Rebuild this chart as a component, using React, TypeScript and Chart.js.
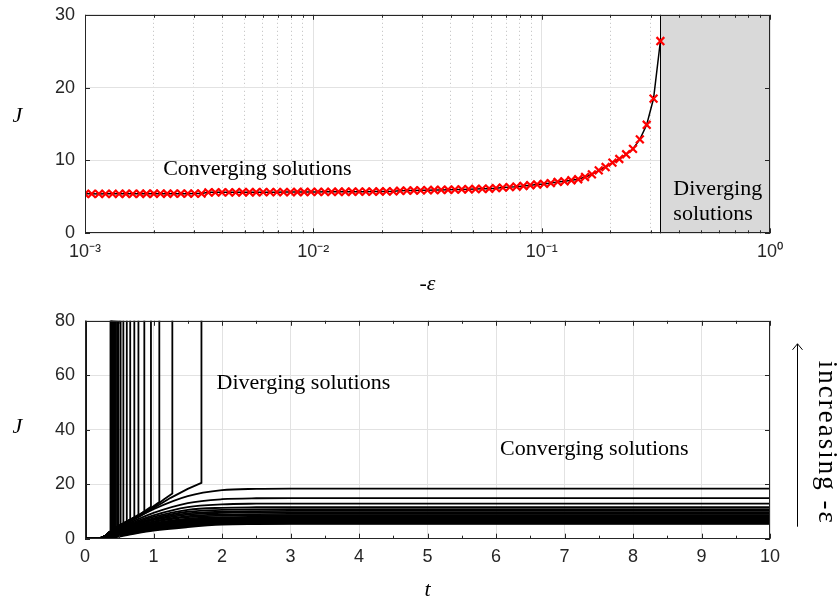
import React, { useEffect, useRef } from 'react';
import { Chart, registerables } from 'chart.js';

Chart.register(...registerables);

// ---------------- DATA ----------------
// Top plot: cost J versus -epsilon (log scale)
const EPS = [
  0.00100, 0.00107, 0.00115, 0.00123, 0.00132, 0.00141, 0.00151, 0.00162, 0.00174, 0.00186,
  0.00200, 0.00214, 0.00229, 0.00245, 0.00263, 0.00282, 0.00302, 0.00324, 0.00347, 0.00372,
  0.00398, 0.00427, 0.00457, 0.00490, 0.00525, 0.00562, 0.00603, 0.00646, 0.00692, 0.00741,
  0.00794, 0.00851, 0.00912, 0.00977, 0.01047, 0.01122, 0.01202, 0.01288, 0.01380, 0.01479,
  0.01585, 0.01698, 0.01820, 0.01950, 0.02089, 0.02239, 0.02399, 0.02570, 0.02754, 0.02951,
  0.03162, 0.03388, 0.03631, 0.03890, 0.04169, 0.04467, 0.04786, 0.05129, 0.05495, 0.05888,
  0.06310, 0.06761, 0.07244, 0.07762, 0.08318, 0.08913, 0.09550, 0.10233, 0.10965, 0.11749,
  0.12589, 0.13490, 0.14454, 0.15488, 0.16596, 0.17783, 0.19055, 0.20417, 0.21878, 0.23442,
  0.25119, 0.26915, 0.28840, 0.30903, 0.33113,
];
const J_TOP = [
  5.42, 5.42, 5.41, 5.42, 5.42, 5.42, 5.43, 5.42, 5.43, 5.43,
  5.43, 5.44, 5.43, 5.44, 5.44, 5.44, 5.45, 5.45, 5.62, 5.62,
  5.63, 5.63, 5.63, 5.64, 5.64, 5.64, 5.65, 5.65, 5.65, 5.66,
  5.66, 5.67, 5.67, 5.68, 5.68, 5.69, 5.69, 5.70, 5.70, 5.71,
  5.72, 5.72, 5.73, 5.74, 5.75, 5.76, 5.84, 5.86, 5.88, 5.90,
  5.92, 5.94, 5.96, 5.98, 6.00, 6.02, 6.05, 6.08, 6.10, 6.12,
  6.20, 6.28, 6.34, 6.40, 6.50, 6.60, 6.70, 6.78, 6.90, 7.05,
  7.14, 7.28, 7.42, 7.73, 8.10, 8.65, 9.10, 9.70, 10.20, 10.85,
  11.60, 12.90, 14.90, 18.50, 26.40,
];
const DIVERGE_EPS = 0.331; // start of the "diverging" shaded band

const TOP_X_MAJOR = [0.001, 0.01, 0.1, 1];
const TOP_X_LABELS = ['10⁻³', '10⁻²', '10⁻¹', '10⁰'];
const TOP_X_GRID = [
  0.001, 0.002, 0.003, 0.004, 0.005, 0.006, 0.007, 0.008, 0.009,
  0.01, 0.02, 0.03, 0.04, 0.05, 0.06, 0.07, 0.08, 0.09,
  0.1, 0.2, 0.3, 0.4, 0.5, 0.6, 0.7, 0.8, 0.9, 1,
];
const TOP_Y_TICKS = [0, 10, 20, 30];
const TOP_X_TITLE = '-ε';
const Y_TITLE = 'J';

// Bottom plot: J(t) trajectories
const BOT_X_TICKS = [0, 1, 2, 3, 4, 5, 6, 7, 8, 9, 10];
const BOT_Y_TICKS = [0, 20, 40, 60, 80];
const BOT_X_TITLE = 't';

// converging trajectories, sampled at T_GRID
const T_GRID = [0, 0.2, 0.3, 0.37, 0.5, 0.75, 1.0, 1.5, 2.0, 2.5, 3.0, 10];
const CONV_CURVES = [
  [0, 0.05, 1.0, 2.3, 4.2, 7.6, 10.8, 15.6, 17.8, 18.3, 18.4, 18.4],
  [0, 0.05, 0.95, 2.2, 3.9, 6.9, 9.5, 13.1, 14.5, 14.85, 14.9, 14.9],
  [0, 0.05, 0.9, 2.1, 3.7, 6.4, 8.6, 11.6, 12.6, 12.85, 12.9, 12.9],
  [0, 0.05, 0.85, 2.0, 3.5, 6.0, 8.0, 10.6, 11.35, 11.55, 11.6, 11.6],
  [0, 0.05, 0.8, 1.9, 3.3, 5.7, 7.5, 9.9, 10.6, 10.8, 10.85, 10.85],
  [0, 0.05, 0.75, 1.8, 3.2, 5.4, 7.1, 9.3, 9.95, 10.15, 10.2, 10.2],
  [0, 0.05, 0.7, 1.7, 3.0, 5.2, 6.8, 8.85, 9.5, 9.65, 9.7, 9.7],
  [0, 0.05, 0.65, 1.6, 2.9, 4.9, 6.4, 8.3, 8.9, 9.05, 9.1, 9.1],
  [0, 0.05, 0.6, 1.5, 2.7, 4.7, 6.1, 7.9, 8.45, 8.6, 8.65, 8.65],
  [0, 0.05, 0.55, 1.4, 2.6, 4.4, 5.7, 7.4, 7.9, 8.05, 8.1, 8.1],
  [0, 0.04, 0.5, 1.3, 2.5, 4.2, 5.4, 7.05, 7.55, 7.7, 7.73, 7.73],
  [0, 0.04, 0.45, 1.2, 2.4, 4.0, 5.2, 6.75, 7.25, 7.38, 7.42, 7.42],
  [0, 0.04, 0.4, 1.1, 2.3, 3.8, 5.0, 6.5, 6.98, 7.1, 7.14, 7.14],
  [0, 0.04, 0.35, 1.0, 2.1, 3.6, 4.8, 6.25, 6.75, 6.87, 6.9, 6.9],
  [0, 0.03, 0.3, 0.9, 2.0, 3.45, 4.6, 6.05, 6.55, 6.67, 6.7, 6.7],
  [0, 0.03, 0.28, 0.8, 1.9, 3.3, 4.4, 5.85, 6.35, 6.47, 6.5, 6.5],
  [0, 0.03, 0.25, 0.7, 1.8, 3.15, 4.25, 5.7, 6.2, 6.33, 6.36, 6.36],
  [0, 0.03, 0.22, 0.6, 1.65, 3.0, 4.1, 5.5, 6.05, 6.17, 6.2, 6.2],
  [0, 0.03, 0.2, 0.5, 1.5, 2.85, 3.9, 5.3, 5.9, 6.02, 6.05, 6.05],
  [0, 0.02, 0.16, 0.42, 1.35, 2.65, 3.7, 5.1, 5.75, 5.87, 5.9, 5.9],
  [0, 0.02, 0.13, 0.35, 1.2, 2.45, 3.5, 4.9, 5.6, 5.72, 5.75, 5.75],
  [0, 0.02, 0.1, 0.25, 1.0, 2.25, 3.25, 4.6, 5.42, 5.58, 5.62, 5.62],
  [0, 0.02, 0.06, 0.15, 0.8, 2.0, 3.0, 4.25, 5.15, 5.36, 5.42, 5.42],
];

// diverging trajectories: common lead-in, own path, then blow-up at t_div
const DIV_LEAD = [[0, 0], [0.18, 0.05], [0.26, 0.5], [0.31, 1.3], [0.35, 2.2]];
const DIV_TAILS = [
  [[0.372, 2.6]],
  [[0.378, 2.75]],
  [[0.384, 2.9]],
  [[0.39, 3.05]],
  [[0.397, 3.2]],
  [[0.405, 3.35]],
  [[0.415, 3.5]],
  [[0.425, 3.65]],
  [[0.438, 3.85]],
  [[0.452, 4.05]],
  [[0.47, 4.4]],
  [[0.49, 4.75]],
  [[0.52, 5.2]],
  [[0.45, 4.0], [0.56, 5.8]],
  [[0.45, 3.9], [0.52, 5.0], [0.61, 6.5]],
  [[0.45, 3.9], [0.55, 5.4], [0.66, 7.1]],
  [[0.45, 3.8], [0.55, 5.3], [0.64, 6.7], [0.72, 7.9]],
  [[0.45, 3.8], [0.55, 5.2], [0.66, 7.0], [0.78, 8.8]],
  [[0.45, 3.7], [0.55, 5.1], [0.7, 7.4], [0.866, 10.0]],
  [[0.45, 3.7], [0.6, 5.8], [0.8, 8.9], [0.963, 11.7]],
  [[0.45, 3.6], [0.6, 5.7], [0.8, 8.7], [0.95, 11.0], [1.085, 13.5]],
  [[0.45, 3.6], [0.6, 5.6], [0.8, 8.5], [1.0, 11.5], [1.15, 14.4], [1.275, 16.6]],
  [[0.45, 3.5], [0.6, 5.5], [0.8, 8.3], [1.0, 11.2], [1.25, 15.0], [1.5, 18.3], [1.7, 20.5]],
];
const INSTANT_DIV_T = 0.012; // trajectory blowing up immediately
const BLOWUP_J = 100;

// annotations
const TOP_NOTE_CONV = { text: 'Converging solutions', x: 0.0022, y: 8.0 };
const TOP_NOTE_DIV = ['Diverging', 'solutions'];
const BOT_NOTE_DIV = { text: 'Diverging solutions', x: 1.92, y: 55.0 };
const BOT_NOTE_CONV = { text: 'Converging solutions', x: 6.06, y: 30.6 };
const SIDE_NOTE = 'increasing -ε';

// ---------------- STYLE ----------------
const SANS = "'Liberation Sans', Arial, Helvetica, sans-serif";
const SERIF = "'Liberation Serif', 'Times New Roman', serif";
const AXIS_COLOR = '#262626';
const GRID_COLOR = '#e2e2e2';
const MINOR_GRID_COLOR = '#bdbdbd';
const SHADE = '#d9d9d9';

const isDecade = (v: number) => TOP_X_MAJOR.some((m) => Math.abs(v - m) / m < 1e-6);

function drawFrame(chart: any) {
  const { ctx, chartArea: a } = chart;
  ctx.save();
  ctx.strokeStyle = AXIS_COLOR;
  ctx.lineWidth = 1;
  const l = Math.round(a.left) + 0.5;
  const t = Math.round(a.top) + 0.5;
  const r = Math.round(a.right) - 0.5;
  const b = Math.round(a.bottom) - 0.5;
  ctx.strokeRect(l, t, r - l, b - t);
  ctx.restore();
}

function drawInwardTicks(chart: any, xVals: number[], xLen: (v: number) => number, yVals: number[]) {
  const { ctx, chartArea: a, scales } = chart;
  ctx.save();
  ctx.strokeStyle = AXIS_COLOR;
  ctx.lineWidth = 1;
  ctx.beginPath();
  xVals.forEach((v) => {
    const px = Math.round(scales.x.getPixelForValue(v)) + 0.5;
    const len = xLen(v);
    ctx.moveTo(px, a.bottom);
    ctx.lineTo(px, a.bottom - len);
    ctx.moveTo(px, a.top);
    ctx.lineTo(px, a.top + len);
  });
  yVals.forEach((v) => {
    const py = Math.round(scales.y.getPixelForValue(v)) + 0.5;
    ctx.moveTo(a.left, py);
    ctx.lineTo(a.left + 5, py);
    ctx.moveTo(a.right, py);
    ctx.lineTo(a.right - 5, py);
  });
  ctx.stroke();
  ctx.restore();
}

function drawYTitle(chart: any, baselineOffset: number) {
  const { ctx, chartArea: a } = chart;
  ctx.save();
  ctx.fillStyle = '#000';
  ctx.font = `italic 22px ${SERIF}`;
  ctx.textAlign = 'center';
  ctx.textBaseline = 'alphabetic';
  ctx.fillText(Y_TITLE, a.left - 67.5, a.top + baselineOffset);
  ctx.restore();
}

const topDecor = {
  id: 'topDecor',
  beforeDatasetsDraw(chart: any) {
    const { ctx, chartArea: a, scales } = chart;
    const x0 = scales.x.getPixelForValue(DIVERGE_EPS);
    ctx.save();
    ctx.fillStyle = SHADE;
    ctx.fillRect(x0, a.top, a.right - x0, a.bottom - a.top);
    ctx.strokeStyle = '#000';
    ctx.lineWidth = 1;
    ctx.beginPath();
    ctx.moveTo(Math.round(x0) + 0.5, a.top);
    ctx.lineTo(Math.round(x0) + 0.5, a.bottom);
    ctx.stroke();
    ctx.fillStyle = '#000';
    ctx.font = `22px ${SERIF}`;
    ctx.textAlign = 'left';
    ctx.textBaseline = 'alphabetic';
    ctx.fillText(TOP_NOTE_DIV[0], x0 + 13, scales.y.getPixelForValue(5.3));
    ctx.fillText(TOP_NOTE_DIV[1], x0 + 13, scales.y.getPixelForValue(1.85));
    ctx.restore();
  },
  afterDatasetsDraw(chart: any) {
    const { ctx, scales } = chart;
    ctx.save();
    ctx.fillStyle = '#000';
    ctx.font = `22px ${SERIF}`;
    ctx.textAlign = 'left';
    ctx.textBaseline = 'alphabetic';
    ctx.fillText(TOP_NOTE_CONV.text, scales.x.getPixelForValue(TOP_NOTE_CONV.x), scales.y.getPixelForValue(TOP_NOTE_CONV.y));
    ctx.restore();
  },
  afterDraw(chart: any) {
    drawFrame(chart);
    drawInwardTicks(chart, TOP_X_GRID, (v) => (isDecade(v) ? 5 : 3), TOP_Y_TICKS);
    drawYTitle(chart, 107);
  },
};

const botDecor = {
  id: 'botDecor',
  afterDatasetsDraw(chart: any) {
    const { ctx, scales } = chart;
    ctx.save();
    ctx.fillStyle = '#000';
    ctx.font = `22px ${SERIF}`;
    ctx.textAlign = 'left';
    ctx.textBaseline = 'alphabetic';
    ctx.fillText(BOT_NOTE_DIV.text, scales.x.getPixelForValue(BOT_NOTE_DIV.x), scales.y.getPixelForValue(BOT_NOTE_DIV.y));
    ctx.fillText(BOT_NOTE_CONV.text, scales.x.getPixelForValue(BOT_NOTE_CONV.x), scales.y.getPixelForValue(BOT_NOTE_CONV.y));
    ctx.restore();
  },
  afterDraw(chart: any) {
    const { ctx, chartArea: a } = chart;
    drawFrame(chart);
    const minorX: number[] = [];
    BOT_X_TICKS.forEach((v) => { minorX.push(v); if (v < 10) minorX.push(v + 0.5); });
    drawInwardTicks(chart, minorX, (v) => (Number.isInteger(v) ? 5 : 3), BOT_Y_TICKS);
    drawYTitle(chart, 112);
    // side arrow + label
    ctx.save();
    ctx.strokeStyle = '#000';
    ctx.lineWidth = 1;
    const ax = a.right + 27.5;
    const tipY = a.top + 23;
    ctx.beginPath();
    ctx.moveTo(ax, tipY);
    ctx.lineTo(ax, a.bottom - 12);
    ctx.moveTo(ax - 5, tipY + 6);
    ctx.lineTo(ax, tipY);
    ctx.lineTo(ax + 5, tipY + 6);
    ctx.stroke();
    ctx.translate(a.right + 49, a.top + 40);
    ctx.rotate(Math.PI / 2);
    ctx.fillStyle = '#000';
    ctx.font = `27px ${SERIF}`;
    (ctx as any).letterSpacing = '2px';
    ctx.textAlign = 'left';
    ctx.textBaseline = 'alphabetic';
    ctx.fillText(SIDE_NOTE, 0, 0);
    ctx.restore();
  },
};

const tickFont = { family: SANS, size: 18 };
const titleFont = { family: SERIF, size: 22, style: 'italic' as const, lineHeight: 1 };

function topConfig(): any {
  return {
    type: 'line',
    data: {
      datasets: [
        {
          data: EPS.map((e, i) => ({ x: e, y: J_TOP[i] })),
          borderColor: '#000',
          borderWidth: 1.5,
          tension: 0,
          pointStyle: 'crossRot',
          pointRadius: 5.5,
          pointBorderColor: '#ff0000',
          pointBackgroundColor: '#ff0000',
          pointBorderWidth: 2.2,
        },
      ],
    },
    options: {
      animation: false,
      responsive: false,
      devicePixelRatio: 1,
      events: [],
      layout: { padding: { left: 0, right: 69, top: 0, bottom: 0 } },
      plugins: { legend: { display: false }, tooltip: { enabled: false } },
      scales: {
        x: {
          type: 'logarithmic',
          min: 0.001,
          max: 1,
          afterBuildTicks: (s: any) => { s.ticks = TOP_X_GRID.map((v) => ({ value: v, major: isDecade(v) })); },
          afterFit: (s: any) => { s.height = 66.7; },
          ticks: {
            autoSkip: false,
            maxRotation: 0,
            padding: 8,
            color: AXIS_COLOR,
            font: tickFont,
            callback: (v: number) => {
              const i = TOP_X_MAJOR.findIndex((m) => Math.abs(v - m) / m < 1e-6);
              return i >= 0 ? TOP_X_LABELS[i] : '';
            },
          },
          grid: {
            drawTicks: false,
            color: (c: any) => (c.tick && isDecade(c.tick.value) ? GRID_COLOR : MINOR_GRID_COLOR),
            lineWidth: 1,
          },
          border: { display: false, dash: (c: any) => (c.tick && isDecade(c.tick.value) ? [] : [1, 3]) },
          title: { display: true, text: TOP_X_TITLE, font: titleFont, color: '#000', padding: { top: 0, bottom: 5 } },
        },
        y: {
          min: 0,
          max: 30,
          afterBuildTicks: (s: any) => { s.ticks = TOP_Y_TICKS.map((v) => ({ value: v })); },
          afterFit: (s: any) => { s.width = 85; },
          ticks: { padding: 10, color: AXIS_COLOR, font: tickFont },
          grid: { drawTicks: false, color: GRID_COLOR, lineWidth: 1 },
          border: { display: false },
        },
      },
    },
    plugins: [topDecor],
  };
}

function bottomConfig(): any {
  const conv = CONV_CURVES.map((row) => ({
    data: T_GRID.map((t, i) => ({ x: t, y: row[i] })),
    borderColor: '#000',
    borderWidth: 1.8,
    pointRadius: 0,
    cubicInterpolationMode: 'monotone',
  }));
  const div = DIV_TAILS.map((tail) => {
    const last = tail[tail.length - 1];
    const pts = [...DIV_LEAD, ...tail, [last[0], BLOWUP_J]];
    return {
      data: pts.map(([x, y]) => ({ x, y })),
      borderColor: '#000',
      borderWidth: 1.8,
      pointRadius: 0,
      tension: 0,
    };
  });
  const instant = {
    data: [{ x: 0, y: 0 }, { x: INSTANT_DIV_T, y: 0 }, { x: INSTANT_DIV_T, y: BLOWUP_J }],
    borderColor: '#000',
    borderWidth: 2.2,
    pointRadius: 0,
    tension: 0,
  };
  return {
    type: 'line',
    data: { datasets: [...conv, ...div, instant] },
    options: {
      animation: false,
      responsive: false,
      devicePixelRatio: 1,
      events: [],
      layout: { padding: { left: 0, right: 69, top: 19, bottom: 0 } },
      plugins: { legend: { display: false }, tooltip: { enabled: false } },
      scales: {
        x: {
          type: 'linear',
          min: 0,
          max: 10,
          afterBuildTicks: (s: any) => { s.ticks = BOT_X_TICKS.map((v) => ({ value: v })); },
          afterFit: (s: any) => { s.height = 62.3; },
          ticks: { autoSkip: false, maxRotation: 0, padding: 8, color: AXIS_COLOR, font: tickFont },
          grid: { drawTicks: false, color: GRID_COLOR, lineWidth: 1 },
          border: { display: false },
          title: { display: true, text: BOT_X_TITLE, font: titleFont, color: '#000', padding: { top: 0, bottom: 0 } },
        },
        y: {
          min: 0,
          max: 80,
          afterBuildTicks: (s: any) => { s.ticks = BOT_Y_TICKS.map((v) => ({ value: v })); },
          afterFit: (s: any) => { s.width = 85; },
          ticks: { padding: 10, color: AXIS_COLOR, font: tickFont },
          grid: { drawTicks: false, color: GRID_COLOR, lineWidth: 1 },
          border: { display: false },
        },
      },
    },
    plugins: [botDecor],
  };
}

export default function App() {
  const topRef = useRef<HTMLCanvasElement>(null);
  const botRef = useRef<HTMLCanvasElement>(null);
  useEffect(() => {
    const c1 = new Chart(topRef.current as HTMLCanvasElement, topConfig());
    const c2 = new Chart(botRef.current as HTMLCanvasElement, bottomConfig());
    return () => {
      c1.destroy();
      c2.destroy();
    };
  }, []);
  return (
    <div style={{ position: 'fixed', left: 0, top: 0, width: 839, height: 601, background: '#fff', overflow: 'hidden' }}>
      <canvas ref={topRef} width={839} height={306} style={{ position: 'absolute', left: 0, top: -6, width: 839, height: 306 }} />
      <canvas ref={botRef} width={839} height={301} style={{ position: 'absolute', left: 0, top: 300, width: 839, height: 301 }} />
    </div>
  );
}
